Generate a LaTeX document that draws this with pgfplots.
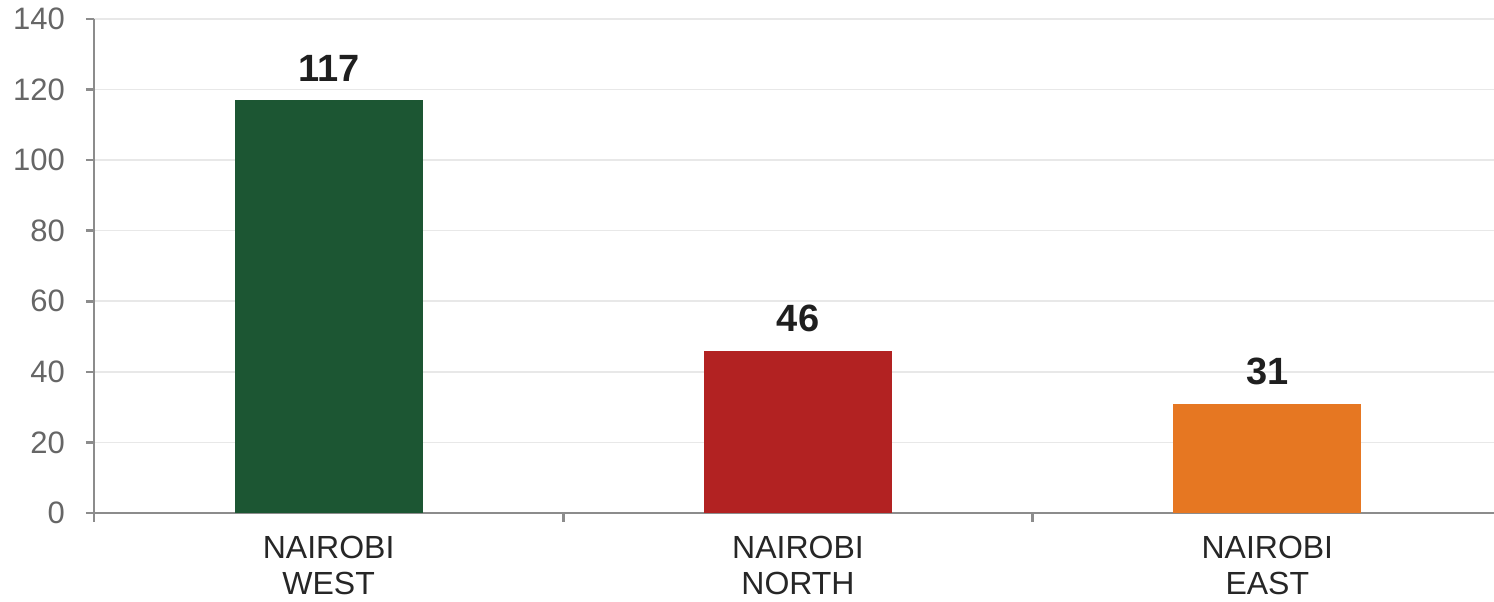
\documentclass[border=0pt]{standalone}
\usepackage{fontspec}
\setmainfont{Liberation Sans}
\usepackage{pgfplots}
\pgfplotsset{compat=1.18}
\definecolor{cgreen}{HTML}{1C5633}
\definecolor{cred}{HTML}{B22222}
\definecolor{corange}{HTML}{E67722}
\definecolor{axgray}{HTML}{8C8C8C}
\definecolor{tickgray}{HTML}{666666}
\definecolor{gridgray}{HTML}{E8E8E8}
\begin{document}
\begin{tikzpicture}
\begin{axis}[
  name=ax,
  scale only axis,
  width=704pt, height=247pt,
  ybar, bar width=94pt, bar shift=0pt,
  xmin=-0.5, xmax=2.5,
  ymin=0, ymax=140,
  ytick={0,20,...,140},
  xtick={0,1,2},
  minor xtick={-0.5,0.5,1.5},
  xticklabels={NAIROBI\\WEST, NAIROBI\\NORTH, NAIROBI\\EAST},
  xticklabel style={align=center, font=\fontsize{16}{18}\selectfont, text=black!85, yshift=-4pt},
  yticklabel style={font=\fontsize{15.5}{18}\selectfont, text=tickgray, xshift=-7pt},
  /pgf/number format/assume math mode=true,
  axis x line*=bottom, axis y line*=left,
  axis line style={axgray, line width=1.3pt, -},
  ymajorgrids, grid style={gridgray, line width=0.8pt},
  major x tick style={draw=none},
  major y tick style={axgray, line width=1.3pt},
  minor x tick style={axgray, line width=1.3pt},
  tick align=outside,
  major tick length=4pt, minor tick length=4.5pt,
  clip=false,
  nodes near coords,
  every node near coord/.append style={font=\bfseries\fontsize{19}{22}\selectfont, text=black!88, yshift=6pt},
]
\addplot[fill=cgreen, draw=none] coordinates {(0,117)};
\addplot[fill=cred, draw=none] coordinates {(1,46)};
\addplot[fill=corange, draw=none] coordinates {(2,31)};
\end{axis}
\pgfresetboundingbox
\path[use as bounding box] ([xshift=-47pt,yshift=-44.5pt]ax.south west) rectangle ([xshift=-4pt,yshift=9.5pt]ax.north east);
\end{tikzpicture}
\end{document}
